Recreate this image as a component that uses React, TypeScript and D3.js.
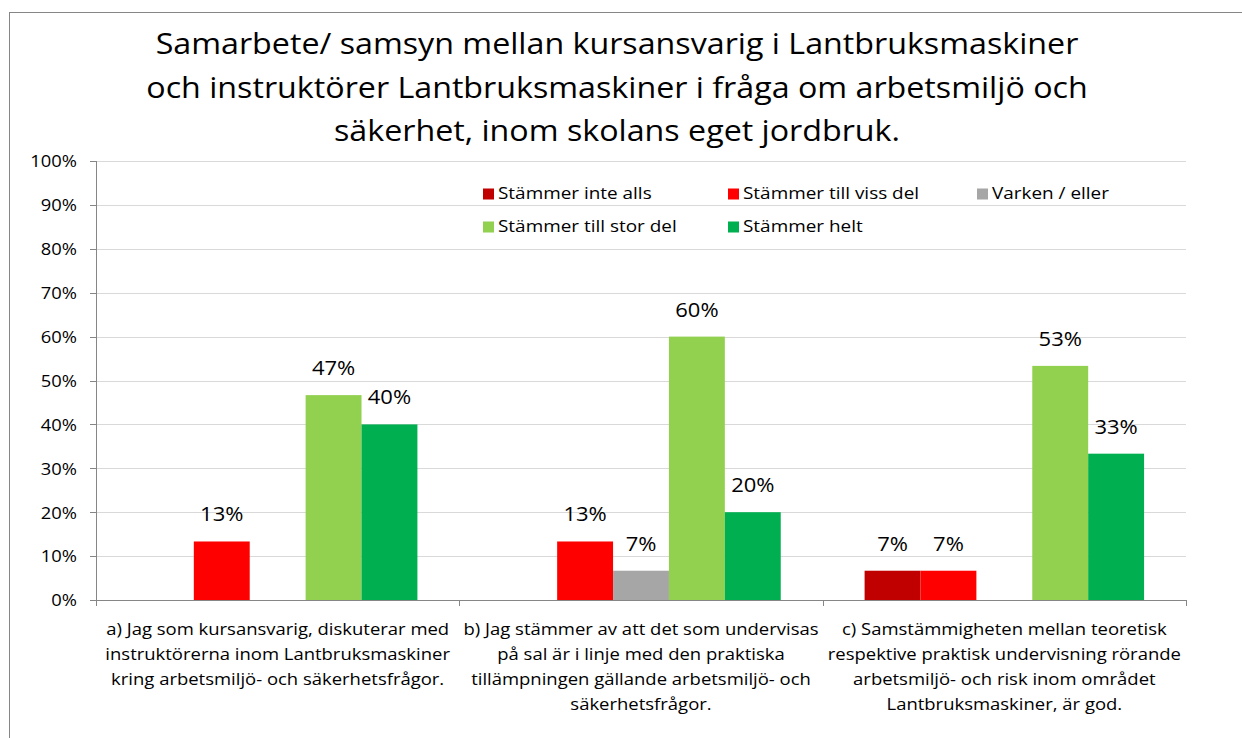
import React from "react";
import * as d3 from "d3";

const titleLines = [
  "Samarbete/ samsyn mellan kursansvarig i Lantbruksmaskiner",
  "och instruktörer Lantbruksmaskiner i fråga om arbetsmiljö och",
  "säkerhet, inom skolans eget jordbruk.",
];

const categories = ["a", "b", "c"];
const categoryLabels = [
  ["a) Jag som kursansvarig, diskuterar med", "instruktörerna inom Lantbruksmaskiner", "kring arbetsmiljö- och säkerhetsfrågor."],
  ["b) Jag stämmer av att det som undervisas", "på sal är i linje med den praktiska", "tillämpningen gällande arbetsmiljö- och", "säkerhetsfrågor."],
  ["c) Samstämmigheten mellan teoretisk", "respektive praktisk undervisning rörande", "arbetsmiljö- och risk inom området", "Lantbruksmaskiner, är god."],
];

const seriesNames = ["Stämmer inte alls", "Stämmer till viss del", "Varken / eller", "Stämmer till stor del", "Stämmer helt"];
const seriesColors = ["#C00000", "#FF0000", "#A6A6A6", "#92D050", "#00B050"];

const stammerInteAlls = [0, 0, 0.0667];
const stammerTillVissDel = [0.1333, 0.1333, 0.0667];
const varkenEller = [0, 0.0667, 0];
const stammerTillStorDel = [0.4667, 0.6, 0.5333];
const stammerHelt = [0.4, 0.2, 0.3333];

const seriesValues = [stammerInteAlls, stammerTillVissDel, varkenEller, stammerTillStorDel, stammerHelt];

const yTicks = [0, 0.1, 0.2, 0.3, 0.4, 0.5, 0.6, 0.7, 0.8, 0.9, 1.0];

const W = 1242;
const H = 738;
const plot = { left: 96, right: 1186, top: 161, bottom: 600 };
const FONT = "'Open Sans', sans-serif";
const SX = 1.1;

function T({
  x,
  y,
  size,
  anchor = "start",
  children,
}: {
  x: number;
  y: number;
  size: number;
  anchor?: string;
  children: React.ReactNode;
}) {
  return (
    <text
      transform={`translate(${x},${y}) scale(${SX},1)`}
      textAnchor={anchor}
      fontSize={size}
      fill="#000"
    >
      {children}
    </text>
  );
}

export default function App() {
  const y = d3.scaleLinear().domain([0, 1]).range([plot.bottom, plot.top]);
  const x0 = d3.scaleBand<string>().domain(categories).range([plot.left, plot.right]).padding(0);
  const gw = x0.bandwidth();
  const barW = gw / 6.5;
  const x1 = d3
    .scaleBand<number>()
    .domain(d3.range(seriesNames.length))
    .range([barW * 0.75, gw - barW * 0.75])
    .padding(0);
  const fmt = d3.format(".0%");

  const legendPos = [
    [483, 199],
    [728, 199],
    [977, 199],
    [483, 232],
    [728, 232],
  ];

  return (
    <svg
      width={W}
      height={H}
      style={{ position: "absolute", left: 0, top: 0, background: "#fff" }}
      fontFamily={FONT}
    >
      <rect x={0} y={0} width={W} height={H} fill="#fff" />
      <rect x={9.5} y={12.5} width={1400} height={900} fill="none" stroke="#868686" strokeWidth={1} />

      {titleLines.map((t, i) => (
        <T key={i} x={617} y={54 + i * 43.5} size={29.3} anchor="middle">
          {t}
        </T>
      ))}

      {/* gridlines */}
      {yTicks.map((t) => (
        <line key={t} x1={plot.left} x2={plot.right} y1={Math.round(y(t)) + 0.5} y2={Math.round(y(t)) + 0.5} stroke="#D9D9D9" strokeWidth={1} />
      ))}

      {/* bars */}
      {categories.map((c, ci) => (
        <g key={c}>
          {seriesValues.map((vals, si) =>
            vals[ci] > 0 ? (
              <rect
                key={si}
                x={(x0(c) as number) + (x1(si) as number)}
                y={y(vals[ci])}
                width={x1.bandwidth()}
                height={plot.bottom - y(vals[ci])}
                fill={seriesColors[si]}
              />
            ) : null
          )}
          {seriesValues.map((vals, si) =>
            vals[ci] > 0 ? (
              <T
                key={"l" + si}
                x={(x0(c) as number) + (x1(si) as number) + x1.bandwidth() / 2}
                y={y(vals[ci]) - 20}
                size={20}
                anchor="middle"
              >
                {fmt(vals[ci])}
              </T>
            ) : null
          )}
        </g>
      ))}

      {/* y axis */}
      <line x1={plot.left + 0.5} x2={plot.left + 0.5} y1={plot.top} y2={plot.bottom} stroke="#868686" />
      {yTicks.map((t) => (
        <g key={"yt" + t}>
          <line x1={plot.left - 6} x2={plot.left} y1={Math.round(y(t)) + 0.5} y2={Math.round(y(t)) + 0.5} stroke="#868686" />
          <T x={77} y={y(t) + 6.3} size={16.7} anchor="end">
            {fmt(t)}
          </T>
        </g>
      ))}

      {/* x axis */}
      <line x1={plot.left} x2={plot.right} y1={plot.bottom + 0.5} y2={plot.bottom + 0.5} stroke="#868686" />
      {[...categories.map((c) => x0(c) as number), plot.right].map((xx, i) => (
        <line key={"xt" + i} x1={Math.round(xx) + 0.5} x2={Math.round(xx) + 0.5} y1={plot.bottom} y2={plot.bottom + 6} stroke="#868686" />
      ))}
      {categories.map((c, ci) =>
        categoryLabels[ci].map((ln, li) => (
          <T key={"cl" + c + li} x={(x0(c) as number) + gw / 2} y={635 + li * 25} size={16.8} anchor="middle">
            {ln}
          </T>
        ))
      )}

      {/* legend */}
      {seriesNames.map((n, i) => (
        <g key={"lg" + i}>
          <rect x={legendPos[i][0]} y={legendPos[i][1] - 10.5} width={11} height={11} fill={seriesColors[i]} />
          <T x={legendPos[i][0] + 15} y={legendPos[i][1]} size={17.2}>
            {n}
          </T>
        </g>
      ))}
    </svg>
  );
}
